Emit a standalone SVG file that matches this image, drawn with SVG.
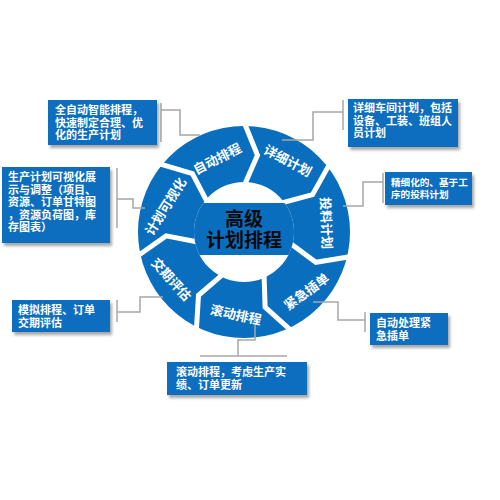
<svg xmlns="http://www.w3.org/2000/svg" width="500" height="500" viewBox="0 0 500 500">
<style>
.box{fill:#0A6EBF;filter:url(#sh)}
.bt{fill:#fff;font-family:"Noto Sans CJK SC","Liberation Sans",sans-serif;font-weight:bold;font-size:11px}
.bs{font-size:9.6px}
.st{fill:#fff;font-family:"Noto Sans CJK SC","Liberation Sans",sans-serif;font-weight:bold;font-size:13px;text-anchor:middle;dominant-baseline:central}
.sep{fill:none;stroke:#fff;stroke-width:5;stroke-linejoin:miter}
.ln{fill:none;stroke:#a6a6a6;stroke-width:1.5}
.br{fill:none;stroke:#bdbdbd;stroke-width:2}
</style>
<defs>
<filter id="sh" x="-10%" y="-10%" width="130%" height="140%">
<feDropShadow dx="2" dy="3" stdDeviation="1.5" flood-color="#000" flood-opacity="0.35"/>
</filter>
<clipPath id="hole"><circle cx="244" cy="232" r="50"/></clipPath>
</defs>
<rect width="500" height="500" fill="#fff"/>

<g id="cycle">
<circle cx="244" cy="232" r="106" fill="#0A6EBF"/>
<polyline class="sep" points="244,122 257.5,155.2 244,186"/>
<polyline class="sep" points="330,163.4 312.5,194.7 280,203.3"/>
<polyline class="sep" points="351.2,256.5 315.9,262.3 288.8,242.2"/>
<polyline class="sep" points="291.7,331.1 265.1,307.1 264,273.4"/>
<polyline class="sep" points="196.3,331.1 198.5,295.3 224,273.4"/>
<polyline class="sep" points="136.8,256.5 166.1,235.9 199.2,242.2"/>
<polyline class="sep" points="158,163.4 192.4,173.5 208,203.3"/>
<circle cx="244" cy="232" r="50" fill="#fff"/>
<rect x="190" y="203" width="110" height="52" fill="#0A6EBF" clip-path="url(#hole)"/>
</g>

<g id="center">
<text x="244" y="226" text-anchor="middle" font-family="Noto Sans CJK SC,Liberation Sans,sans-serif" font-weight="bold" font-size="19" fill="#0a0a0a">高级</text>
<text x="244" y="247" text-anchor="middle" font-family="Noto Sans CJK SC,Liberation Sans,sans-serif" font-weight="bold" font-size="19" fill="#0a0a0a">计划排程</text>
</g>

<g id="seg-zidong"><text class="st" transform="translate(217,158) rotate(-27)">自动排程</text></g>
<g id="seg-xiangxi"><text class="st" transform="translate(288,160) rotate(28)">详细计划</text></g>
<g id="seg-touliao"><text class="st" transform="translate(327,223) rotate(88)">投料计划</text></g>
<g id="seg-jinji"><text class="st" transform="translate(306,291) rotate(-36)">紧急插单</text></g>
<g id="seg-gundong"><text class="st" transform="translate(236,314) rotate(12)">滚动排程</text></g>
<g id="seg-jiaoqi"><text class="st" transform="translate(172,279) rotate(48)">交期评估</text></g>
<g id="seg-keshihua"><text class="st" transform="translate(165,206) rotate(-58)">计划可视化</text></g>

<g id="connectors">
<path class="br" d="M161,103V142"/><path class="ln" d="M161,110H180V135H200"/>
<path class="br" d="M343,100V130"/><path class="ln" d="M343,112H313V140H282"/>
<path class="br" d="M383,173V203"/><path class="ln" d="M383,182H363V206H343"/>
<path class="br" d="M365,312V332"/><path class="ln" d="M365,320H338V302H313"/>
<path class="br" d="M200,356H287"/><path class="ln" d="M238,356V340H255V325"/>
<path class="br" d="M117,300V322"/><path class="ln" d="M117,312H140V297H163"/>
<path class="br" d="M117,168V228"/><path class="ln" d="M117,199H133V208H145"/>
</g>

<g id="box1"><rect class="box" x="48" y="100" width="109" height="45"/>
<text class="bt" x="55" y="114">全自动智能排程，</text><text class="bt" x="55" y="126.5">快速制定合理、优</text><text class="bt" x="55" y="139">化的生产计划</text></g>
<g id="box2"><rect class="box" x="348" y="99" width="110" height="48"/>
<text class="bt" x="353" y="112">详细车间计划，包括</text><text class="bt" x="353" y="124.5">设备、工装、班组人</text><text class="bt" x="353" y="137">员计划</text></g>
<g id="box3"><rect class="box" x="385" y="172" width="87" height="33"/>
<text class="bt bs" x="391" y="185.5">精细化的、基于工</text><text class="bt bs" x="391" y="198">序的投料计划</text></g>
<g id="box4"><rect class="box" x="370" y="313" width="78" height="32"/>
<text class="bt" x="376" y="327">自动处理紧</text><text class="bt" x="376" y="339.5">急插单</text></g>
<g id="box5"><rect class="box" x="167" y="362" width="140" height="33"/>
<text class="bt" x="176" y="376">滚动排程，考虑生产实</text><text class="bt" x="176" y="388.5">绩、订单更新</text></g>
<g id="box6"><rect class="box" x="12" y="300" width="98" height="32"/>
<text class="bt" x="18" y="314">模拟排程、订单</text><text class="bt" x="18" y="326.5">交期评估</text></g>
<g id="box7"><rect class="box" x="2" y="167" width="108" height="76"/>
<text class="bt" x="8" y="181">生产计划可视化展</text><text class="bt" x="8" y="193.5">示与调整（项目、</text><text class="bt" x="8" y="206">资源、订单甘特图</text><text class="bt" x="8" y="218.5">，资源负荷图，库</text><text class="bt" x="8" y="231">存图表）</text></g>
</svg>
